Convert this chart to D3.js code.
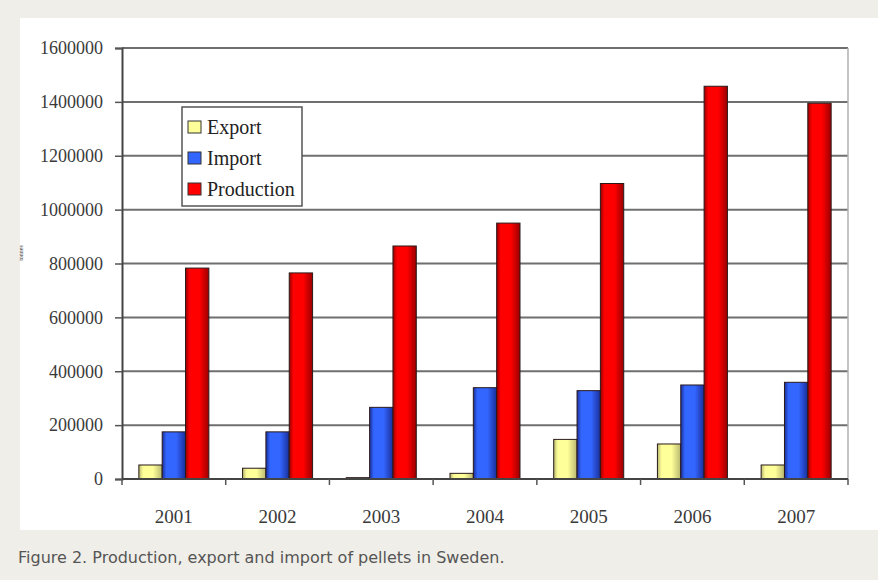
<!DOCTYPE html>
<meta charset='utf-8'>
<title>Pellets in Sweden</title>
<style>
body {
  margin: 0;
  background-color: #f0eee8;
}
svg { display: block; }
</style>
<svg width="878" height="580"></svg>
<script src="https://d3js.org/d3.v7.min.js"></script>
<script>

// values (tonnes)
var years = ["2001", "2002", "2003", "2004", "2005", "2006", "2007"];
var series = ["Export", "Import", "Production"];
var exportVals = [52000, 40000, 5000, 21000, 147000, 130000, 52000];
var importVals = [175000, 175000, 266000, 339000, 328000, 349000, 359000];
var productionVals = [783000, 765000, 865000, 950000, 1097000, 1458000, 1395000];
var yTicks = [0, 200000, 400000, 600000, 800000, 1000000, 1200000, 1400000, 1600000];

var seriesVals = [exportVals, importVals, productionVals];

var colors = {
  Export:     { main: "#ffff99", edge: "#b8b870" },
  Import:     { main: "#3366ff", edge: "#1a2f99" },
  Production: { main: "#ff0000", edge: "#9a0000" }
};

var svg = d3.select("svg");
var defs = svg.append("defs");

// white panel behind the chart
svg.append("rect")
    .attr("x", 20).attr("y", 18)
    .attr("width", 858).attr("height", 512)
    .attr("fill", "#fff");

var plotLeft = 122, plotRight = 848, plotTop = 48, plotBottom = 479;

var x = d3.scaleBand()
    .domain(years)
    .range([plotLeft, plotRight])
    .paddingInner(0.325)
    .paddingOuter(0.1625);

var xs = d3.scaleBand()
    .domain(series)
    .range([0, x.bandwidth()]);

var y = d3.scaleLinear()
    .domain([0, 1600000])
    .range([plotBottom, plotTop]);

// horizontal shading like the old excel bars
series.forEach(function(s) {
  var g = defs.append("linearGradient")
      .attr("id", "grad-" + s)
      .attr("x1", 0).attr("x2", 1).attr("y1", 0).attr("y2", 0);
  g.append("stop").attr("offset", 0).attr("stop-color", colors[s].edge);
  g.append("stop").attr("offset", 0.18).attr("stop-color", colors[s].main);
  g.append("stop").attr("offset", 0.6).attr("stop-color", colors[s].main);
  g.append("stop").attr("offset", 1).attr("stop-color", colors[s].edge);
});

// gridlines
svg.append("g")
  .selectAll("line")
  .data(yTicks.slice(1))
  .enter().append("line")
    .attr("x1", plotLeft).attr("x2", plotRight)
    .attr("y1", function(d) { return y(d); })
    .attr("y2", function(d) { return y(d); })
    .attr("stroke", "#6f6f6f")
    .attr("stroke-width", 2);

// right border of plot area
svg.append("line")
    .attr("x1", plotRight).attr("x2", plotRight)
    .attr("y1", plotTop).attr("y2", plotBottom)
    .attr("stroke", "#b0b0b0")
    .attr("stroke-width", 1.5);

// bars
var rows = years.map(function(yr, i) {
  return series.map(function(s, j) { return { year: yr, key: s, value: seriesVals[j][i] }; });
});

svg.append("g")
  .selectAll("g")
  .data(rows)
  .enter().append("g")
    .attr("transform", function(d) { return "translate(" + x(d[0].year) + ",0)"; })
  .selectAll("rect")
  .data(function(d) { return d; })
  .enter().append("rect")
    .attr("x", function(d) { return xs(d.key); })
    .attr("y", function(d) { return y(d.value); })
    .attr("width", xs.bandwidth())
    .attr("height", function(d) { return plotBottom - y(d.value); })
    .attr("fill", function(d) { return "url(#grad-" + d.key + ")"; })
    .attr("stroke", "#2a1a1a")
    .attr("stroke-width", 1);

// y axis
var yAxis = d3.axisLeft(y)
    .tickValues(yTicks)
    .tickSize(7)
    .tickPadding(12)
    .tickFormat(d3.format("d"));

var gy = svg.append("g")
    .attr("transform", "translate(" + plotLeft + ",0)")
    .call(yAxis);
gy.select(".domain").attr("stroke", "#444").attr("stroke-width", 2);
gy.selectAll(".tick line").attr("stroke", "#555").attr("stroke-width", 1.5);
gy.selectAll(".tick text")
    .attr("fill", "#3a3a3a")
    .attr("font-family", "Liberation Serif, Times New Roman, serif")
    .attr("font-size", 18);

// x axis: ticks between categories
var xLine = svg.append("g");
xLine.append("line")
    .attr("x1", plotLeft).attr("x2", plotRight)
    .attr("y1", plotBottom).attr("y2", plotBottom)
    .attr("stroke", "#444").attr("stroke-width", 2);
xLine.selectAll("line.tk")
  .data(years.concat(["end"]))
  .enter().append("line")
    .attr("class", "tk")
    .attr("x1", function(d, i) { return plotLeft + i * x.step(); })
    .attr("x2", function(d, i) { return plotLeft + i * x.step(); })
    .attr("y1", plotBottom).attr("y2", plotBottom + 6)
    .attr("stroke", "#555").attr("stroke-width", 1.5);
xLine.selectAll("text")
  .data(years)
  .enter().append("text")
    .attr("x", function(d) { return x(d) + x.bandwidth() / 2; })
    .attr("y", 523)
    .attr("text-anchor", "middle")
    .attr("fill", "#3a3a3a")
    .attr("font-family", "Liberation Serif, Times New Roman, serif")
    .attr("font-size", 19)
    .text(function(d) { return d; });

// clipped axis title at the far left
svg.append("text")
    .attr("transform", "translate(23,253) rotate(-90)")
    .attr("text-anchor", "middle")
    .attr("fill", "#333")
    .attr("font-family", "Liberation Serif, serif")
    .attr("font-size", 6)
    .text("tonnes");

// legend
var lg = svg.append("g").attr("transform", "translate(182,107)");
lg.append("rect")
    .attr("width", 120).attr("height", 99)
    .attr("fill", "#fff")
    .attr("stroke", "#555")
    .attr("stroke-width", 1.5);
var item = lg.selectAll("g.item")
  .data(series)
  .enter().append("g")
    .attr("class", "item")
    .attr("transform", function(d, i) { return "translate(6," + (20 + i * 31) + ")"; });
item.append("rect")
    .attr("x", 0).attr("y", -6)
    .attr("width", 13).attr("height", 12)
    .attr("fill", function(d) { return colors[d].main; })
    .attr("stroke", "#333")
    .attr("stroke-width", 1);
item.append("text")
    .attr("x", 19)
    .attr("y", 7)
    .attr("fill", "#222")
    .attr("font-family", "Liberation Serif, Times New Roman, serif")
    .attr("font-size", 20)
    .text(function(d) { return d; });

// caption
svg.append("text")
    .attr("x", 18)
    .attr("y", 563)
    .attr("fill", "#555")
    .attr("font-family", "DejaVu Sans, Verdana, sans-serif")
    .attr("font-size", 16)
    .text("Figure 2. Production, export and import of pellets in Sweden.");

</script>
